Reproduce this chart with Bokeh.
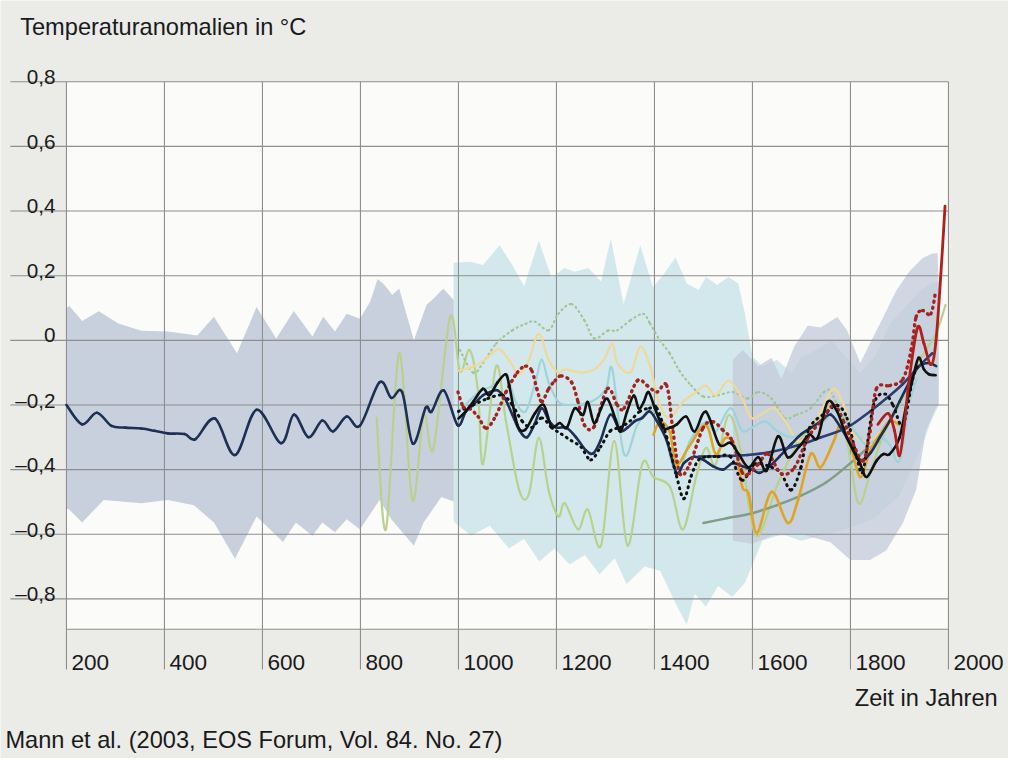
from bokeh.plotting import figure
from bokeh.models import Range1d
from bokeh.core.properties import value
from bokeh.embed import file_html
from bokeh.resources import INLINE

# ---------------- data ----------------
x_ticks = [200, 400, 600, 800, 1000, 1200, 1400, 1600, 1800, 2000]
x_tick_labels = ["200", "400", "600", "800", "1000", "1200", "1400", "1600", "1800", "2000"]
y_ticks = [0.8, 0.6, 0.4, 0.2, 0.0, -0.2, -0.4, -0.6, -0.8]
y_tick_labels = ["0,8", "0,6", "0,4", "0,2", "0", "–0,2", "–0,4", "–0,6", "–0,8"]
y_bottom = -0.894

# grey-blue uncertainty band, first part (200-1000)
grey1_up_yr = [200, 206, 232, 266, 306, 353, 407, 467, 501, 548, 588, 628, 664, 702, 724, 748, 772, 799, 820, 835, 850, 865, 879, 909, 935, 950, 969, 993, 1000]
grey1_up = [0.10, 0.106, 0.06, 0.09, 0.052, 0.03, 0.027, 0.015, 0.073, -0.04, 0.103, 0.006, 0.091, 0.012, 0.073, 0.027, 0.082, 0.067, 0.12, 0.19, 0.17, 0.14, 0.16, 0.0, 0.11, 0.13, 0.16, 0.12, 0.08]
grey1_lo_yr = [200, 206, 232, 276, 353, 407, 460, 501, 544, 588, 642, 668, 702, 722, 748, 772, 799, 839, 863, 909, 929, 965, 1000]
grey1_lo = [-0.52, -0.524, -0.564, -0.494, -0.504, -0.494, -0.51, -0.564, -0.676, -0.545, -0.624, -0.564, -0.605, -0.564, -0.594, -0.554, -0.585, -0.494, -0.554, -0.636, -0.564, -0.485, -0.504]

# light blue band (990-1590)
blue1_up_yr = [990, 1024, 1050, 1084, 1110, 1134, 1164, 1190, 1216, 1237, 1265, 1291, 1311, 1337, 1371, 1397, 1418, 1443, 1466, 1490, 1505, 1528, 1551, 1571, 1585]
blue1_up = [0.24, 0.243, 0.233, 0.294, 0.233, 0.167, 0.309, 0.194, 0.224, 0.212, 0.224, 0.182, 0.315, 0.112, 0.294, 0.164, 0.203, 0.256, 0.176, 0.156, 0.196, 0.171, 0.196, 0.176, 0.08]
blue1_lo_yr = [990, 1000, 1026, 1064, 1103, 1134, 1165, 1196, 1227, 1258, 1288, 1319, 1343, 1380, 1412, 1443, 1466, 1482, 1505, 1530, 1559, 1585]
blue1_lo = [-0.56, -0.574, -0.604, -0.574, -0.644, -0.614, -0.684, -0.644, -0.694, -0.664, -0.724, -0.674, -0.754, -0.70, -0.714, -0.814, -0.88, -0.784, -0.824, -0.76, -0.794, -0.75]

# light blue band, narrow part (1585-1980)
blue2_up_yr = [1585, 1600, 1620, 1650, 1680, 1700, 1730, 1760, 1790, 1820, 1850, 1880, 1910, 1940, 1965, 1980]
blue2_up = [0.08, -0.05, -0.08, -0.06, -0.10, -0.05, -0.03, 0.0, -0.05, -0.10, -0.05, 0.05, 0.10, 0.15, 0.18, 0.18]
blue2_lo_yr = [1585, 1620, 1660, 1700, 1750, 1800, 1850, 1900, 1940, 1965, 1980]
blue2_lo = [-0.75, -0.62, -0.60, -0.62, -0.60, -0.58, -0.55, -0.48, -0.35, -0.25, -0.20]

# grey-blue band, second part (1560-1980)
grey2_up_yr = [1560, 1580, 1600, 1612, 1639, 1659, 1685, 1713, 1739, 1773, 1793, 1820, 1840, 1867, 1893, 1920, 1947, 1967, 1978, 1980]
grey2_up = [-0.06, -0.03, -0.06, -0.08, -0.054, -0.12, -0.02, 0.046, 0.04, 0.072, 0.031, -0.07, -0.009, 0.072, 0.153, 0.213, 0.254, 0.269, 0.27, 0.15]
grey2_lo_yr = [1560, 1600, 1639, 1700, 1759, 1800, 1840, 1873, 1907, 1934, 1954, 1974, 1980]
grey2_lo = [-0.62, -0.63, -0.605, -0.60, -0.625, -0.68, -0.68, -0.65, -0.565, -0.463, -0.28, -0.21, -0.20]

# navy reconstruction (200-1975)
navy_yr = [200, 232, 262, 292, 320, 353, 380, 407, 441, 463, 503, 544, 588, 638, 664, 694, 722, 744, 772, 799, 839, 863, 885, 907, 933, 945, 970, 998,
           1015, 1030, 1050, 1065, 1080, 1095, 1110, 1125, 1140, 1155, 1170, 1185, 1200, 1220, 1240, 1260, 1275, 1290, 1310, 1330, 1345, 1360, 1375, 1390,
           1405, 1425, 1445, 1460, 1480, 1500, 1520, 1540, 1560, 1580, 1600, 1615, 1635, 1655, 1680, 1700, 1720, 1740, 1760, 1780, 1800, 1820, 1840, 1860,
           1880, 1900, 1920, 1940, 1960, 1975]
navy_val = [-0.20, -0.26, -0.224, -0.265, -0.27, -0.273, -0.28, -0.288, -0.29, -0.306, -0.242, -0.355, -0.215, -0.318, -0.23, -0.30, -0.248, -0.282, -0.236, -0.264, -0.13, -0.178, -0.16, -0.32, -0.209, -0.221, -0.155, -0.262,
            -0.22, -0.20, -0.17, -0.16, -0.155, -0.18, -0.23, -0.28, -0.30, -0.26, -0.21, -0.25, -0.27, -0.27, -0.30, -0.34, -0.35, -0.31, -0.23, -0.28, -0.27, -0.25, -0.24, -0.22,
            -0.25, -0.31, -0.41, -0.38, -0.36, -0.37, -0.39, -0.40, -0.38, -0.39, -0.40, -0.41, -0.39, -0.36, -0.32, -0.29, -0.27, -0.25, -0.23, -0.27, -0.32, -0.37, -0.35, -0.30,
            -0.25, -0.19, -0.13, -0.08, -0.07, -0.08]

# black solid (1000-1974)
black_yr = [1000, 1015, 1030, 1050, 1063, 1080, 1096, 1103, 1120, 1136, 1156, 1174, 1190, 1207, 1221, 1237, 1254, 1264, 1277, 1291, 1304, 1321, 1331, 1344, 1358, 1368, 1378, 1388,
            1401, 1418, 1432, 1445, 1465, 1482, 1505, 1532, 1555, 1572, 1592, 1612, 1629, 1652, 1672, 1695, 1716, 1733, 1753, 1773, 1793, 1820, 1833, 1853, 1867, 1880,
            1900, 1914, 1927, 1939, 1950, 1960, 1974]
black_val = [-0.242, -0.22, -0.19, -0.15, -0.17, -0.13, -0.105, -0.135, -0.26, -0.277, -0.226, -0.20, -0.267, -0.256, -0.271, -0.211, -0.231, -0.191, -0.256, -0.211, -0.181, -0.246, -0.282, -0.221, -0.171, -0.211, -0.191, -0.16,
             -0.211, -0.271, -0.27, -0.261, -0.236, -0.282, -0.221, -0.322, -0.317, -0.352, -0.393, -0.362, -0.403, -0.297, -0.362, -0.33, -0.292, -0.302, -0.191, -0.221, -0.302, -0.383, -0.423, -0.373, -0.352, -0.352,
             -0.302, -0.201, -0.12, -0.054, -0.09, -0.105, -0.108]

# black dotted (1000-1940)
bdot_yr = [1000, 1030, 1060, 1090, 1110, 1130, 1150, 1170, 1190, 1210, 1230, 1250, 1270, 1290, 1310, 1330, 1350, 1370, 1390, 1405, 1425, 1445, 1460, 1475, 1490, 1510, 1530, 1555,
           1579, 1605, 1639, 1659, 1679, 1699, 1716, 1753, 1773, 1793, 1813, 1826, 1847, 1870, 1887, 1907, 1927, 1940]
bdot_val = [-0.22, -0.20, -0.18, -0.17, -0.20, -0.25, -0.27, -0.24, -0.27, -0.29, -0.31, -0.33, -0.37, -0.33, -0.28, -0.27, -0.25, -0.22, -0.21, -0.21, -0.30, -0.42, -0.49, -0.42, -0.37, -0.36, -0.36, -0.36,
            -0.433, -0.383, -0.393, -0.413, -0.463, -0.393, -0.272, -0.221, -0.201, -0.241, -0.362, -0.403, -0.201, -0.166, -0.201, -0.262, -0.12, -0.07]

# dark red dotted (1000-1974)
rdot_yr = [999, 1010, 1023, 1040, 1057, 1077, 1097, 1120, 1137, 1150, 1160, 1170, 1184, 1197, 1210, 1231, 1244, 1257, 1277, 1304, 1324, 1338, 1365, 1385, 1405, 1425, 1438, 1452,
           1472, 1499, 1519, 1539, 1559, 1579, 1592, 1612, 1632, 1659, 1686, 1713, 1739, 1766, 1786, 1806, 1826, 1840, 1853, 1880, 1907, 1924, 1934, 1947, 1964, 1974]
rdot_val = [-0.16, -0.206, -0.211, -0.236, -0.272, -0.231, -0.16, -0.10, -0.08, -0.095, -0.15, -0.19, -0.15, -0.125, -0.11, -0.13, -0.19, -0.262, -0.267, -0.15, -0.20, -0.21, -0.125, -0.14, -0.16, -0.14, -0.282, -0.413,
            -0.383, -0.272, -0.252, -0.277, -0.312, -0.408, -0.413, -0.383, -0.352, -0.413, -0.393, -0.302, -0.251, -0.201, -0.251, -0.322, -0.373, -0.282, -0.15, -0.14, -0.12, -0.029, 0.072, 0.092, 0.082, 0.153]

# red instrumental (1856-1993)
red_yr = [1856, 1877, 1890, 1900, 1910, 1920, 1937, 1950, 1964, 1974, 1984, 1993]
red_val = [-0.26, -0.226, -0.28, -0.357, -0.26, -0.12, 0.04, -0.01, -0.075, -0.01, 0.193, 0.415]

# smooth navy curve (1490-1967)
bh1_yr = [1490, 1540, 1590, 1640, 1693, 1740, 1793, 1840, 1873, 1907, 1940, 1967]
bh1_val = [-0.36, -0.358, -0.355, -0.345, -0.325, -0.30, -0.27, -0.22, -0.18, -0.135, -0.08, -0.04]

# smooth grey-green curve (1500-1830)
bh2_yr = [1500, 1550, 1600, 1650, 1700, 1750, 1800, 1830]
bh2_val = [-0.565, -0.55, -0.535, -0.51, -0.48, -0.44, -0.38, -0.34]

# light green solid (833-1994)
lgreen_yr = [833, 852, 879, 906, 929, 949, 983, 1003, 1023, 1040, 1050, 1077, 1097, 1124, 1144, 1164, 1184, 1204, 1217, 1244, 1264, 1291, 1318, 1345, 1375, 1398, 1432, 1458,
             1485, 1505, 1525, 1552, 1579, 1592, 1612, 1652, 1692, 1739, 1766, 1793, 1816, 1840, 1867, 1900, 1934, 1974, 1994]
lgreen_val = [-0.24, -0.585, -0.04, -0.494, -0.23, -0.335, 0.072, -0.095, -0.03, -0.16, -0.383, -0.08, -0.25, -0.464, -0.474, -0.302, -0.464, -0.545, -0.504, -0.585, -0.524, -0.635, -0.312, -0.635, -0.383, -0.423, -0.454, -0.585,
              -0.423, -0.333, -0.383, -0.231, -0.362, -0.504, -0.605, -0.443, -0.322, -0.231, -0.20, -0.312, -0.504, -0.413, -0.292, -0.20, -0.08, 0.02, 0.11]

# pale yellow (1000-1895)
yellow_yr = [999, 1023, 1050, 1077, 1090, 1107, 1124, 1144, 1164, 1184, 1204, 1217, 1251, 1277, 1297, 1314, 1324, 1351, 1371, 1391, 1411, 1431, 1458, 1485, 1505, 1525, 1552,
             1579, 1599, 1626, 1646, 1672, 1693, 1719, 1746, 1766, 1786, 1806, 1840, 1870, 1895]
yellow_val = [-0.095, -0.085, -0.065, -0.03, -0.035, -0.07, -0.105, -0.06, 0.021, -0.06, -0.10, -0.09, -0.10, -0.09, -0.06, -0.01, -0.07, -0.10, -0.02, -0.08, -0.20, -0.24, -0.19, -0.16, -0.14, -0.17, -0.125,
              -0.18, -0.241, -0.221, -0.211, -0.262, -0.312, -0.282, -0.20, -0.15, -0.20, -0.292, -0.312, -0.27, -0.25]

# orange (1398-1900)
orange_yr = [1398, 1411, 1431, 1445, 1470, 1505, 1525, 1545, 1565, 1579, 1592, 1609, 1639, 1672, 1693, 1719, 1739, 1766, 1780, 1800, 1820, 1840, 1860, 1880, 1900]
orange_val = [-0.292, -0.252, -0.282, -0.383, -0.33, -0.262, -0.352, -0.302, -0.332, -0.453, -0.474, -0.595, -0.469, -0.565, -0.494, -0.352, -0.393, -0.312, -0.262, -0.322, -0.423, -0.342, -0.292, -0.25, -0.262]

# light cyan (1000-1935)
cyan_yr = [1000, 1020, 1043, 1070, 1097, 1117, 1137, 1157, 1170, 1184, 1204, 1230, 1271, 1301, 1314, 1338, 1365, 1390, 1415, 1445, 1472, 1505, 1525, 1555, 1579, 1600,
           1626, 1650, 1680, 1710, 1746, 1773, 1800, 1830, 1860, 1880, 1900, 1920, 1935]
cyan_val = [-0.22, -0.19, -0.16, -0.14, -0.11, -0.19, -0.22, -0.13, -0.06, -0.13, -0.19, -0.20, -0.19, -0.15, -0.09, -0.352, -0.262, -0.22, -0.25, -0.418, -0.312, -0.252, -0.282, -0.21, -0.28, -0.27,
            -0.251, -0.28, -0.30, -0.28, -0.251, -0.211, -0.26, -0.32, -0.30, -0.322, -0.373, -0.20, -0.12]

# light green dotted (1003-1870)
gdot_yr = [1003, 1030, 1050, 1077, 1110, 1137, 1156, 1184, 1204, 1231, 1257, 1277, 1305, 1324, 1351, 1377, 1391, 1411, 1431, 1451, 1475, 1500, 1530, 1560, 1590,
           1612, 1639, 1666, 1690, 1719, 1746, 1760, 1786, 1813, 1840, 1870]
gdot_val = [-0.03, -0.10, -0.07, -0.01, 0.031, 0.051, 0.058, 0.031, 0.082, 0.112, 0.062, 0.006, 0.03, 0.031, 0.062, 0.082, 0.052, 0.0, -0.04, -0.094, -0.14, -0.174, -0.17, -0.16, -0.18,
            -0.16, -0.18, -0.24, -0.23, -0.21, -0.16, -0.16, -0.24, -0.29, -0.33, -0.30]

# ---------------- layout ----------------
# positions are given in pixels of the 1024x774 reference; the canvas is that
# picture scaled to W x H.
W, H = 1008, 758
REF_W, REF_H = 1024, 774
FS = W / REF_W               # font scale
PX_PER_YEAR = 896 / 1800.0   # year 200 -> x=67, year 2000 -> x=963 (reference pixels)
PX_PER_UNIT = 330.0          # value 0 -> y=347 (reference pixels)


def px2yr(xref):
    return 200 + (xref - 67) / PX_PER_YEAR


def py2v(yref):
    return (347 - yref) / PX_PER_UNIT


def fpx(size):
    return "%.1fpx" % (size * FS)


p = figure(width=W, height=H, output_backend="svg", toolbar_location=None,
           x_range=Range1d(px2yr(0), px2yr(REF_W)), y_range=Range1d(py2v(REF_H), py2v(0)),
           x_axis_location=None, y_axis_location=None, min_border=0)
p.grid.visible = False
p.outline_line_color = None
p.background_fill_color = "#ebebe8"
p.border_fill_color = "#ebebe8"

# white plot area
p.quad(left=[x_ticks[0]], right=[x_ticks[-1]], bottom=[y_bottom], top=[y_ticks[0]],
       fill_color="#fbfbfa", line_color=None)


def band(up_yr, up, lo_yr, lo, color, alpha=1.0):
    xs = list(up_yr) + list(lo_yr)[::-1]
    ys = list(up) + list(lo)[::-1]
    p.patch(xs, ys, fill_color=color, fill_alpha=alpha, line_color=None)


band(grey1_up_yr, grey1_up, grey1_lo_yr, grey1_lo, "#c8d0dd")
band(blue1_up_yr, blue1_up, blue1_lo_yr, blue1_lo, "#d3e8ec")
band(blue2_up_yr, blue2_up, blue2_lo_yr, blue2_lo, "#d3e8ec")
band(grey2_up_yr, grey2_up, grey2_lo_yr, grey2_lo, "#c3cbd9", 0.75)

# grid lines
grid_col = "#8e8e8e"
p.segment(x0=[px2yr(10)] * len(y_ticks), x1=[x_ticks[-1]] * len(y_ticks), y0=y_ticks, y1=y_ticks,
          line_color=grid_col, line_width=1.1)
p.segment(x0=x_ticks, x1=x_ticks, y0=[y_ticks[0]] * len(x_ticks), y1=[py2v(683)] * len(x_ticks),
          line_color=grid_col, line_width=1.1)
p.segment(x0=[x_ticks[0]], x1=[x_ticks[-1]], y0=[y_bottom], y1=[y_bottom], line_color=grid_col, line_width=1.1)


def smooth_line(xs, ys, **kw):
    """Draw a curve through the given points with Bezier segments (Catmull-Rom tangents)."""
    n = len(xs)
    x0, y0, x1, y1, cx0, cy0, cx1, cy1 = [], [], [], [], [], [], [], []
    for i in range(n - 1):
        xa, ya = (xs[i - 1], ys[i - 1]) if i > 0 else (xs[i], ys[i])
        xd, yd = (xs[i + 2], ys[i + 2]) if i + 2 < n else (xs[i + 1], ys[i + 1])
        x0.append(xs[i]); y0.append(ys[i])
        x1.append(xs[i + 1]); y1.append(ys[i + 1])
        cx0.append(xs[i] + (xs[i + 1] - xa) / 6.0)
        cy0.append(ys[i] + (ys[i + 1] - ya) / 6.0)
        cx1.append(xs[i + 1] - (xd - xs[i]) / 6.0)
        cy1.append(ys[i + 1] - (yd - ys[i]) / 6.0)
    p.bezier(x0=x0, y0=y0, x1=x1, y1=y1, cx0=cx0, cy0=cy0, cx1=cx1, cy1=cy1, **kw)


# series
smooth_line(lgreen_yr, lgreen_val, line_color="#b9d18c", line_width=2.2, line_cap="round")
smooth_line(gdot_yr, gdot_val, line_color="#a3c493", line_width=2.2, line_dash="1 4", line_cap="round")
smooth_line(yellow_yr, yellow_val, line_color="#f0d89a", line_width=2.2, line_cap="round")
smooth_line(cyan_yr, cyan_val, line_color="#9fd3da", line_width=2.2, line_cap="round")
smooth_line(bh2_yr, bh2_val, line_color="#7f9e86", line_width=2.5, line_cap="round")
smooth_line(orange_yr, orange_val, line_color="#e0a424", line_width=2.6, line_cap="round")
smooth_line(navy_yr, navy_val, line_color="#1e2f55", line_width=2.6, line_cap="round")
smooth_line(bh1_yr, bh1_val, line_color="#2b3f72", line_width=2.6, line_cap="round")
smooth_line(bdot_yr, bdot_val, line_color="#111111", line_width=3.0, line_dash="1 5", line_cap="round")
smooth_line(rdot_yr, rdot_val, line_color="#a3241f", line_width=3.4, line_dash="1 5", line_cap="round")
smooth_line(black_yr, black_val, line_color="#111111", line_width=2.6, line_cap="round")
smooth_line(red_yr, red_val, line_color="#b31d1a", line_width=2.8, line_cap="round")

# tick labels
font = value("Liberation Sans")
p.text(x=[px2yr(56)] * len(y_ticks), y=[v + 5 / PX_PER_UNIT for v in y_ticks], text=y_tick_labels,
       text_font=font, text_font_size=fpx(21), text_align="right", text_baseline="alphabetic", text_color="#1a1a1a")
p.text(x=[t + 5 / PX_PER_YEAR for t in x_ticks], y=[py2v(676)] * len(x_ticks), text=x_tick_labels,
       text_font=font, text_font_size=fpx(23), text_align="left", text_baseline="alphabetic", text_color="#1a1a1a")

# titles
p.text(x=[px2yr(20)], y=[py2v(27)], text=["Temperaturanomalien in °C"], text_font=font,
       text_font_size=fpx(24), text_align="left", text_baseline="alphabetic", text_color="#1a1a1a")
p.text(x=[px2yr(1013)], y=[py2v(712)], text=["Zeit in Jahren"], text_font=font,
       text_font_size=fpx(24), text_align="right", text_baseline="alphabetic", text_color="#1a1a1a")
p.text(x=[px2yr(5)], y=[py2v(755)], text=["Mann et al. (2003, EOS Forum, Vol. 84. No. 27)"], text_font=font,
       text_font_size=fpx(24), text_align="left", text_baseline="alphabetic", text_color="#1a1a1a")

open("out.html", "w").write(file_html(p, INLINE))
